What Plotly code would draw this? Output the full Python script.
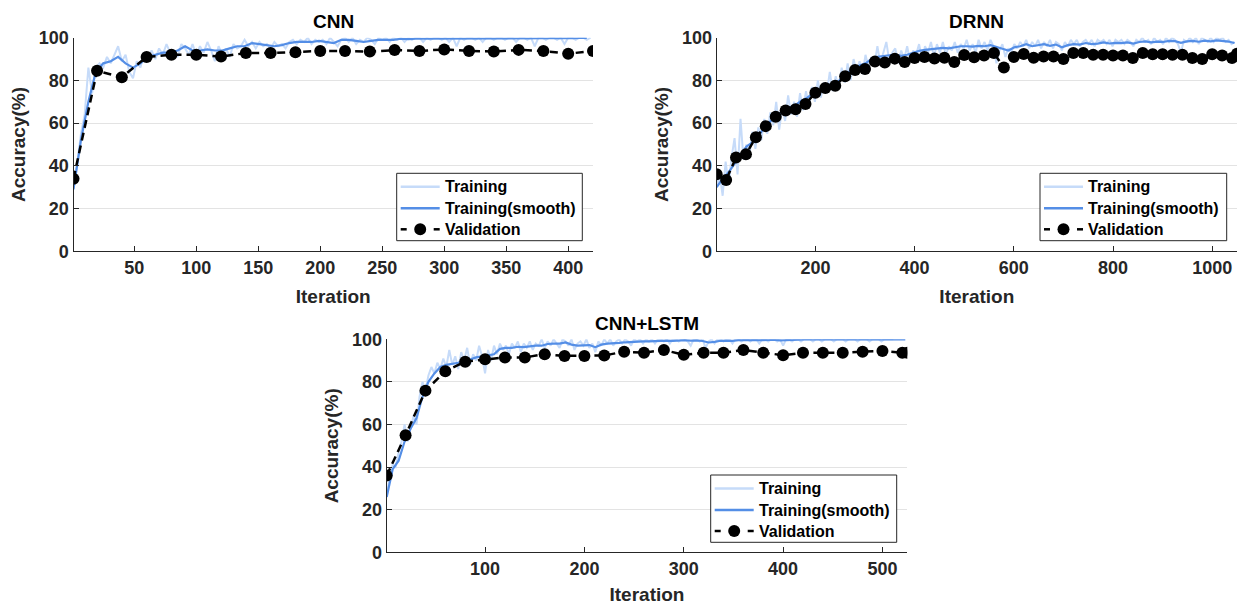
import plotly.graph_objects as go

# ---------------- DATA ----------------
# CNN
cnn_raw_step = 3
cnn_raw = [30, 41, 55, 64, 86, 74, 86, 88, 86, 91, 88, 92, 96, 89, 92, 84, 81, 89, 86, 93,
           91, 94, 90, 95, 92, 97, 93, 94, 91, 97, 95, 92, 97, 92, 96, 93, 98, 94, 89, 96,
           92, 95, 91, 97, 95, 96, 99, 96, 98, 95, 98, 96, 97, 95, 98, 96, 97, 95, 98, 99,
           97, 99, 98, 100, 97, 99, 98, 99, 97, 100, 98, 96, 99, 100, 98, 100, 97, 99, 98, 100,
           99, 97, 100, 99, 100, 98, 100, 99, 100, 98, 100, 99, 100, 100, 98, 100, 99, 100, 100, 99,
           100, 98, 100, 96, 100, 99, 100, 100, 99, 100, 98, 100, 100, 99, 100, 100, 99, 100, 100, 98,
           100, 100, 99, 100, 96, 100, 100, 99, 100, 100, 99, 100, 97, 100, 100, 99, 100, 100, 99, 100]
cnn_smooth_step = 6
cnn_smooth = [29, 52, 70, 84, 88, 89, 91, 88, 86, 88, 91, 92, 93, 93, 94, 96, 94, 94, 94.5, 94,
              94, 95, 96, 96, 97.5, 97, 96.5, 96, 96.5, 97.5, 98, 98, 98, 98.5, 98, 97.5, 99, 99, 98.5, 98,
              98.5, 99, 99, 99, 99.5, 99.3, 99.5, 99.5, 99.6, 99.5, 99.7, 99.6, 99.5, 99.7, 99.8, 99.6, 99.7,
              99.8, 99.7, 99.8, 99.8, 99.7, 99.5, 99.8, 99.8, 99.9, 99.7, 99.8, 99.9, 99.9]
cnn_val_x = [1, 20, 40, 60, 80, 100, 120, 140, 160, 180, 200, 220, 240, 260, 280, 300,
             320, 340, 360, 380, 400, 420]
cnn_val = [34, 84.5, 81.5, 91, 92, 92, 91.2, 92.8, 92.8, 93.2, 93.8, 93.8, 93.5, 94.2, 93.8, 94.5,
           93.8, 93.5, 94.3, 93.8, 92.5, 93.8]

# DRNN
drnn_raw_step = 6
drnn_raw = [30, 36, 26, 42, 31, 44, 53, 36, 62, 43, 50, 45, 56, 48, 58, 52, 62, 55, 65, 59,
            70, 57, 67, 61, 73, 64, 70, 63, 74, 66, 75, 68, 77, 70, 80, 72, 79, 74, 84, 75,
            82, 76, 86, 79, 88, 80, 90, 84, 89, 83, 92, 86, 91, 87, 96, 88, 93, 98, 89, 93,
            95, 88, 94, 90, 96, 89, 94, 92, 97, 90, 96, 93, 98, 91, 97, 93, 98, 92, 96, 94,
            98, 93, 97, 95, 99, 94, 97, 93, 99, 95, 98, 94, 99, 96, 88, 94, 97, 91, 95, 93,
            97, 95, 98, 96, 99, 95, 98, 96, 99, 95, 98, 96, 99, 95, 98, 97, 94, 98, 96, 99,
            97, 99, 96, 98, 99, 97, 99, 96, 99, 98, 99, 97, 99, 96, 99, 98, 99, 97, 99, 98,
            96, 99, 98, 100, 98, 99, 97, 100, 98, 99, 97, 100, 98, 100, 99, 97, 93, 99, 98, 100,
            98, 100, 97, 100, 99, 98, 100, 98, 100, 99, 100, 98, 99, 97, 98]
drnn_smooth_step = 12
drnn_smooth = [30, 34, 37, 41, 45, 49, 51, 54, 58, 61, 63.5, 65.5, 67, 68, 70, 71.5, 73.5, 75, 77.5, 78,
               78.5, 81, 83.5, 85.5, 87, 88, 90, 91, 91.5, 91.8, 92, 91.5, 92, 93, 93.8, 94.3, 94.5, 94.8,
               95.2, 95, 95.5, 96, 96, 95.8, 96.2, 96, 96.5, 95.5, 94.8, 94, 95.5, 96, 97, 96, 96.5, 97,
               96.2, 96.8, 95.5, 96.5, 97, 96.8, 97.5, 97, 97.2, 97.8, 97.3, 97.6, 97.5, 97.8, 97.2, 98,
               98.3, 97.8, 98.2, 98, 98.5, 98.4, 97.6, 98.3, 98.5, 98.1, 98.6, 98.3, 98.7, 98.5, 98.2, 97.5]
drnn_val_x = [1, 20, 40, 60, 80, 100, 120, 140, 160, 180, 200, 220, 240, 260, 280, 300, 320, 340,
              360, 380, 400, 420, 440, 460, 480, 500, 520, 540, 560, 580, 600, 620, 640, 660, 680,
              700, 720, 740, 760, 780, 800, 820, 840, 860, 880, 900, 920, 940, 960, 980, 1000, 1020,
              1040, 1050]
drnn_val = [36.1, 33.4, 43.9, 45.4, 53.4, 58.6, 63, 65.9, 66.5, 69, 74.2, 76.5, 77.5, 81.9, 84.9, 85.3,
            88.8, 88.4, 90.2, 88.6, 90.5, 91, 90.3, 90.6, 88.6, 91.9, 90.8, 91.7, 92.8, 86.1, 91, 92.4,
            90.6, 91.2, 91.2, 90, 92.8, 92.8, 92, 92, 91.7, 91.7, 90.5, 92.8, 92.2, 92.2, 92, 92, 90.5,
            90, 92.2, 91.7, 90.5, 92.5]

# CNN+LSTM
lstm_raw_step = 3
lstm_raw = [26, 36, 41, 40, 47, 52, 60, 52, 58, 64, 60, 73, 80, 76, 83, 87, 84, 89, 86, 91,
            87, 95, 88, 92, 86, 94, 90, 96, 88, 93, 90, 97, 92, 84, 95, 90, 97, 93, 98, 95,
            97, 93, 98, 96, 99, 94, 98, 96, 99, 95, 98, 97, 100, 96, 99, 97, 100, 98, 96, 100,
            99, 97, 100, 95, 98, 99, 97, 100, 96, 98, 94, 99, 97, 100, 98, 100, 97, 99, 100, 98,
            100, 99, 97, 100, 99, 100, 98, 100, 99, 100, 98, 100, 100, 99, 100, 98, 100, 100, 99, 100,
            100, 99, 97, 100, 100, 99, 100, 96, 99, 100, 98, 100, 100, 99, 100, 100, 98, 100, 100, 99,
            100, 100, 99, 100, 100, 98, 100, 100, 99, 100, 100, 99, 100, 97, 100, 100, 99, 100, 100, 99,
            100, 100, 100, 99, 100, 100, 99, 100, 100, 100, 99, 100, 100, 100, 99, 100, 100, 100, 99, 100,
            100, 100, 99, 100, 100, 100, 99, 100, 100, 100, 100]
lstm_smooth_step = 6
lstm_smooth = [26, 39, 43, 52, 58, 63, 73, 80, 84, 87, 88, 88.5, 89, 90, 90.5, 91.5, 92, 92.5, 93, 95.5,
               96, 96, 96.5, 96.3, 96.8, 97, 97, 97.8, 98, 98, 98.5, 97.5, 97, 97, 97.3, 96.3, 97.5, 98,
               98, 98.3, 98.6, 98.8, 98.7, 99, 99, 99.2, 99.3, 99.4, 99.3, 99.6, 99.6, 99.4, 99.5, 99.2,
               98.5, 98.8, 99.3, 99.4, 99.3, 99.6, 99.7, 99.6, 99.7, 99.6, 99.7, 99.8, 99.5, 99.7, 99.8,
               99.8, 99.9, 99.9, 99.8, 99.9, 99.9, 99.9, 99.9, 99.9, 99.9, 99.9, 99.9, 99.9, 99.9, 99.9,
               99.9, 99.9, 99.9, 99.9]
lstm_val_x = [1, 20, 40, 60, 80, 100, 120, 140, 160, 180, 200, 220, 240, 260, 280, 300, 320, 340,
              360, 380, 400, 420, 440, 460, 480, 500, 520, 525]
lstm_val = [36, 55, 75.9, 85, 89.5, 90.6, 91.5, 91.5, 93, 92.2, 92.2, 92.4, 94.2, 93.7, 95, 92.7,
            93.7, 93.7, 95, 93.7, 92.5, 93.7, 93.7, 93.7, 94.2, 94.5, 93.7, 93.7]

titles = ["CNN", "DRNN", "CNN+LSTM"]
x_ticks = [[50, 100, 150, 200, 250, 300, 350, 400],
           [200, 400, 600, 800, 1000],
           [100, 200, 300, 400, 500]]
x_ranges = [[1, 420], [1, 1050], [1, 525]]
legend_names = ["Training", "Training(smooth)", "Validation"]

# ---------------- STYLE ----------------
RAW_C = "rgb(198,219,249)"
SMOOTH_C = "rgb(84,142,230)"
AX_C = "#262626"
FONT = "Liberation Sans, Arial, sans-serif"

panels = [
    (cnn_raw, cnn_raw_step, cnn_smooth, cnn_smooth_step, cnn_val_x, cnn_val),
    (drnn_raw, drnn_raw_step, drnn_smooth, drnn_smooth_step, drnn_val_x, drnn_val),
    (lstm_raw, lstm_raw_step, lstm_smooth, lstm_smooth_step, lstm_val_x, lstm_val),
]

W, H = 1237, 605
# plot-area boxes in pixels: (left, right, top, bottom)
boxes = [(73.5, 593, 37.7, 251.3), (716.7, 1237, 37.7, 251.3), (386.7, 907.3, 339.3, 552.3)]
# legend boxes in pixels: (left, top, right, bottom)
legend_boxes = [(396.7, 173.3, 582.3, 240.7), (1040, 173.3, 1226.7, 240.7), (710.7, 475, 896.7, 542.3)]
x_title_standoff = [12, 12, 14]


def px(xp):
    return xp / W


def py(yp):
    return 1 - yp / H


fig = go.Figure()
layout = {}
annotations = []
shapes = []
for k, (raw, rs, sm, ss, vx, vy) in enumerate(panels):
    sfx = "" if k == 0 else str(k + 1)
    xa, ya = "x" + sfx, "y" + sfx
    fig.add_trace(go.Scatter(x=[1 + rs * i for i in range(len(raw))], y=raw, mode="lines",
                             line=dict(color=RAW_C, width=2), name=legend_names[0],
                             xaxis=xa, yaxis=ya, showlegend=False))
    fig.add_trace(go.Scatter(x=[1 + ss * i for i in range(len(sm))], y=sm, mode="lines",
                             line=dict(color=SMOOTH_C, width=2.2), name=legend_names[1],
                             xaxis=xa, yaxis=ya, showlegend=False))
    fig.add_trace(go.Scatter(x=vx, y=vy, mode="lines+markers",
                             line=dict(color="black", width=2.5, dash="8px,5px"),
                             marker=dict(color="black", size=12, symbol="circle"),
                             name=legend_names[2], xaxis=xa, yaxis=ya, showlegend=False))
    l, r, t, b = boxes[k]
    common = dict(showline=True, linecolor=AX_C, linewidth=1.3, mirror=False, automargin=False,
                  ticks="inside", ticklen=5, tickwidth=1.3, tickcolor=AX_C, zeroline=False,
                  tickfont=dict(family=FONT, size=18, color=AX_C, weight="bold"))
    layout["xaxis" + sfx] = dict(common, domain=[l / W, r / W], anchor=ya, range=x_ranges[k],
                                 tickvals=x_ticks[k], showgrid=False,
                                 title=dict(text="Iteration", standoff=x_title_standoff[k],
                                            font=dict(family=FONT, size=19, color=AX_C, weight="bold")))
    layout["yaxis" + sfx] = dict(common, domain=[1 - b / H, 1 - t / H], anchor=xa, range=[0, 100],
                                 dtick=20, showgrid=True, gridcolor="#e3e3e3", gridwidth=1,
                                 title=dict(text="Accuracy(%)", standoff=8,
                                            font=dict(family=FONT, size=19, color=AX_C, weight="bold")))
    annotations.append(dict(text=titles[k], x=px((l + r) / 2), y=py(t - 16),
                            xref="paper", yref="paper", showarrow=False,
                            font=dict(family=FONT, size=19, color="black", weight="bold"),
                            xanchor="center", yanchor="middle"))

    # ---- legend (box, samples, labels) ----
    L, T, R, B = legend_boxes[k]
    shapes.append(dict(type="rect", xref="paper", yref="paper", x0=px(L), x1=px(R), y0=py(B), y1=py(T),
                       line=dict(color=AX_C, width=1), fillcolor="white", layer="above"))
    rows = [T + 13.4, T + 35, T + 56]
    s0, s1 = L + 4, L + 43
    shapes.append(dict(type="line", xref="paper", yref="paper", x0=px(s0), x1=px(s1),
                       y0=py(rows[0]), y1=py(rows[0]), line=dict(color=RAW_C, width=2.5), layer="above"))
    shapes.append(dict(type="line", xref="paper", yref="paper", x0=px(s0), x1=px(s1),
                       y0=py(rows[1]), y1=py(rows[1]), line=dict(color=SMOOTH_C, width=2.5), layer="above"))
    for a0, a1 in [(s0, s0 + 6), (s1 - 6, s1)]:
        shapes.append(dict(type="line", xref="paper", yref="paper", x0=px(a0), x1=px(a1),
                           y0=py(rows[2]), y1=py(rows[2]), line=dict(color="black", width=2.5), layer="above"))
    cx = (s0 + s1) / 2
    shapes.append(dict(type="circle", xref="paper", yref="paper", x0=px(cx - 6), x1=px(cx + 6),
                       y0=py(rows[2] + 6), y1=py(rows[2] - 6), line=dict(color="black", width=0),
                       fillcolor="black", layer="above"))
    for name, ry in zip(legend_names, rows):
        annotations.append(dict(text=name, x=px(L + 46), y=py(ry), xref="paper", yref="paper",
                                showarrow=False, xanchor="left", yanchor="middle",
                                font=dict(family=FONT, size=16, color="black", weight="bold")))

fig.update_layout(**layout)
fig.update_layout(width=W, height=H, margin=dict(l=0, r=0, t=0, b=0, autoexpand=False),
                  paper_bgcolor="white", plot_bgcolor="white",
                  annotations=annotations, shapes=shapes, showlegend=False)
fig.write_html("out.html", config={"displayModeBar": False},
               post_script="document.body.style.margin='0px';")
